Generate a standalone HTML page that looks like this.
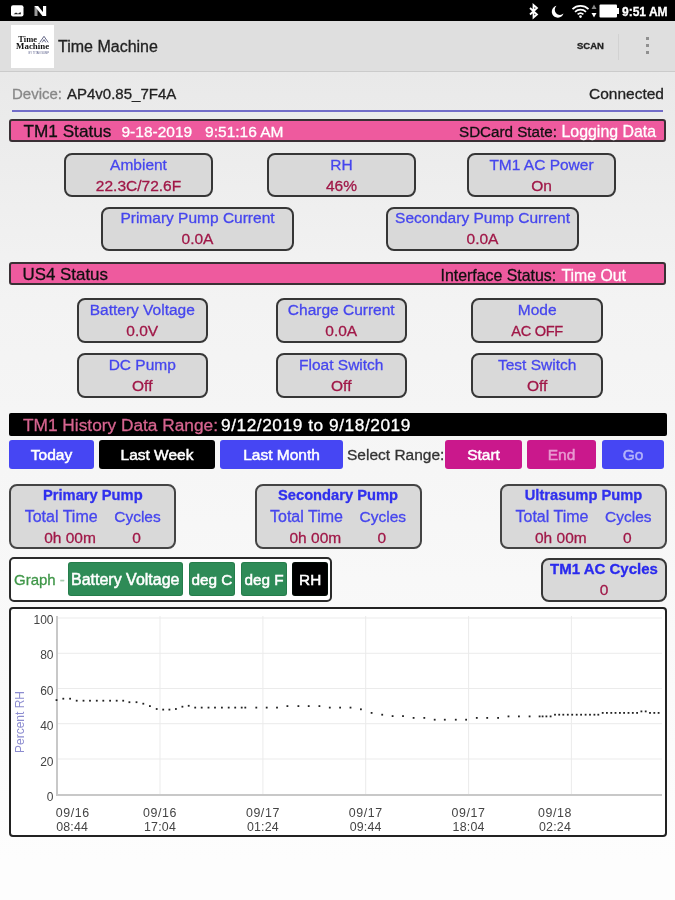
<!DOCTYPE html>
<html><head><meta charset="utf-8"><title>Time Machine</title>
<style>
*{box-sizing:border-box;margin:0;padding:0}
html,body{width:675px;height:900px;overflow:hidden;font-family:"Liberation Sans",sans-serif;}
body{background:linear-gradient(to bottom,#e9e9e9 0px,#e9e9e9 72px,#f3f3f3 300px,#fdfdfd 860px,#fdfdfd 900px)}
.abs{position:absolute}
#sb{position:absolute;left:0;top:0;width:675px;height:21px;background:#000}
#ab{position:absolute;left:0;top:21px;width:675px;height:50.5px;background:#dfdfdf;border-bottom:1px solid #cbcbcb}
.t{position:absolute;white-space:nowrap;line-height:1}
.t,.box{-webkit-text-stroke:0.3px}
.btn,.gb{-webkit-text-stroke:0.5px}
.bar{position:absolute;left:9px;width:657.3px;height:23px;background:#ee5a9e;border:2px solid #3a3035;border-radius:3px}
.box{position:absolute;background:#d9d9d9;border:2px solid #363636;border-radius:8px;text-align:center}
.box .l{position:absolute;left:0;right:0;top:0.9px;color:#4646ee;font-size:15.5px;line-height:18px;white-space:nowrap}
.box .v{position:absolute;left:0;right:0;top:21.7px;color:#a01848;font-size:15.5px;line-height:18px;white-space:nowrap}
.pb{border-color:#444 !important}
.pb .h{position:absolute;left:0;right:0;top:0.2px;color:#3030ee;font-size:14.7px;font-weight:bold;line-height:18px;white-space:nowrap}
.pb .a{position:absolute;top:22px;color:#4646ee;font-size:15.7px;line-height:18px;white-space:nowrap}
.pb .b{position:absolute;top:42.5px;color:#a01848;font-size:15.5px;line-height:18px;white-space:nowrap;text-align:center}
.btn{position:absolute;top:440.2px;height:29.3px;color:#fff;font-size:15.5px;line-height:29.5px;text-align:center;border-radius:3px;white-space:nowrap}
.blue{background:#4646f3}
.mag{background:#ca188c}
.gb{position:absolute;top:562px;height:34.3px;background:#2e8b57;color:#fff;font-size:16px;line-height:36px;box-shadow:inset 0 0 0 1px rgba(0,60,20,.18);text-align:center;border-radius:3px;white-space:nowrap}
svg{position:absolute;left:0;top:0}
svg text{font-family:"Liberation Sans",sans-serif}
svg text.sf{font-family:"Liberation Serif",serif;font-weight:bold}
</style></head><body>
<div id="sb"></div>
<div id="ab"></div>

<!-- status bar icons -->
<svg width="675" height="21" viewBox="0 0 675 21">
 <rect x="11" y="5.3" width="12.5" height="11.2" rx="2" fill="#fff"/>
 <path d="M13.5 14.2 L16 12.6 L18 13.8 L20.5 12 L21 14.2 Z" fill="#222"/>
 <path d="M34.5 16 V6 h3 v10 z" fill="#999"/>
 <path d="M34.5 6 h3.6 l8 10 h-3.6 z M43 6 h3.2 v10 h-3.2 z" fill="#fff"/>
 <path d="M530 8 L537 14.5 L533.5 17.5 V5 L537 8 L530 14.5" fill="none" stroke="#fff" stroke-width="1.8"/>
 <path d="M556.5 5.8 A6 6 0 1 0 563.5 13.6 A5.2 5.2 0 0 1 556.5 5.8 Z" fill="#fff"/>
 <g fill="none" stroke="#fff" stroke-width="1.7">
  <path d="M572.5 9.2 A11.5 11.5 0 0 1 588.5 9.2"/>
  <path d="M575 11.9 A8 8 0 0 1 586 11.9"/>
  <path d="M577.6 14.4 A4.3 4.3 0 0 1 583.4 14.4"/>
 </g>
 <circle cx="580.5" cy="16.6" r="1.3" fill="#fff"/>
 <path d="M591.5 9 L594 4.5 L596.5 9 Z" fill="#888"/>
 <path d="M591.5 13 L594 17.5 L596.5 13 Z" fill="#fff"/>
 <rect x="599.5" y="4.5" width="17.5" height="13" rx="1" fill="#fff"/>
 <rect x="617" y="8" width="2" height="6" fill="#fff"/>
</svg>
<div class="t" style="left:622px;top:5.5px;font-size:12px;font-weight:bold;color:#fff">9:51 AM</div>

<!-- app bar -->
<div class="abs" style="left:11px;top:25px;width:42.5px;height:42.5px;background:#fff"></div>
<svg width="60" height="70" viewBox="0 0 60 70">
 <g font-family="'Liberation Serif',serif" font-weight="bold" fill="#111" style="font-family:'Liberation Serif',serif">
  <text class="sf" x="18.3" y="42.3" font-size="7.2" textLength="18.7" lengthAdjust="spacingAndGlyphs">Time</text>
  <text class="sf" x="16.1" y="49.4" font-size="7.2" textLength="33" lengthAdjust="spacingAndGlyphs">Machine</text>
 </g>
 <text x="28.5" y="53.8" font-size="2.8" fill="#5a5f8a" textLength="20.5" lengthAdjust="spacingAndGlyphs" style="font-family:'Liberation Sans',sans-serif">BY TITAN SUMP</text>
 <path d="M39.8 42.4 L44 36.3 L48.2 42.4 M42.2 42.4 L44 39.6 L45.8 42.4" fill="none" stroke="#55587a" stroke-width="0.9"/>
</svg>
<div class="t" style="left:58px;top:38.5px;font-size:16px;color:#222">Time Machine</div>
<div class="t" style="left:577px;top:41.2px;font-size:9.5px;font-weight:bold;color:#222">SCAN</div>
<div class="abs" style="left:618px;top:34px;width:1px;height:26px;background:#d2d2d2"></div>
<div class="abs" style="left:645.5px;top:37.3px;width:3px;height:3px;background:#909090"></div>
<div class="abs" style="left:645.5px;top:44.1px;width:3px;height:3px;background:#909090"></div>
<div class="abs" style="left:645.5px;top:50.9px;width:3px;height:3px;background:#909090"></div>

<div class="t" style="left:12px;top:86px;font-size:15px;color:#888">Device:</div>
<div class="t" style="left:67px;top:86px;font-size:15px;color:#222">AP4v0.85_7F4A</div>
<div class="t" style="right:11px;top:86px;font-size:15.5px;color:#222">Connected</div>
<div class="abs" style="left:12px;top:109.5px;width:651px;height:2px;background:#726cc8"></div>

<div class="bar" style="top:119px"></div>
<div class="t" style="left:23.5px;top:123px;font-size:17.2px;color:#111">TM1 Status</div>
<div class="t" style="left:121.5px;top:123.5px;font-size:15.5px;color:#fff">9-18-2019&nbsp;&nbsp; 9:51:16 AM</div>
<div class="t" style="left:459px;top:124px;font-size:15.2px;color:#111">SDCard State:</div>
<div class="t" style="left:561.5px;top:123.5px;font-size:15.9px;color:#fff">Logging Data</div>

<div class="box" style="left:64px;top:153.3px;width:149px;height:44px"><div class="l">Ambient</div><div class="v">22.3C/72.6F</div></div>
<div class="box" style="left:267px;top:153.3px;width:149px;height:44px"><div class="l">RH</div><div class="v">46%</div></div>
<div class="box" style="left:467px;top:153.3px;width:149px;height:44px"><div class="l">TM1 AC Power</div><div class="v">On</div></div>
<div class="box" style="left:101px;top:206.5px;width:193px;height:44px"><div class="l">Primary Pump Current</div><div class="v">0.0A</div></div>
<div class="box" style="left:386px;top:206.5px;width:193px;height:44px"><div class="l">Secondary Pump Current</div><div class="v">0.0A</div></div>

<div class="bar" style="top:261.8px"></div>
<div class="t" style="left:22.5px;top:266.7px;font-size:16.9px;color:#111">US4 Status</div>
<div class="t" style="left:440.5px;top:268px;font-size:15.9px;color:#111">Interface Status:</div>
<div class="t" style="left:561.5px;top:268px;font-size:15.8px;color:#fff">Time Out</div>

<div class="box" style="left:76.5px;top:298px;width:131.5px;height:45px"><div class="l">Battery Voltage</div><div class="v">0.0V</div></div>
<div class="box" style="left:275.5px;top:298px;width:131.5px;height:45px"><div class="l">Charge Current</div><div class="v">0.0A</div></div>
<div class="box" style="left:471.3px;top:298px;width:131.7px;height:45px"><div class="l">Mode</div><div class="v" style="font-size:14.6px;letter-spacing:-.3px">AC OFF</div></div>
<div class="box" style="left:76.5px;top:353px;width:131.5px;height:45px"><div class="l">DC Pump</div><div class="v">Off</div></div>
<div class="box" style="left:275.5px;top:353px;width:131.5px;height:45px"><div class="l">Float Switch</div><div class="v">Off</div></div>
<div class="box" style="left:471.3px;top:353px;width:131.7px;height:45px"><div class="l">Test Switch</div><div class="v">Off</div></div>

<div class="abs" style="left:9px;top:413px;width:657.5px;height:22.5px;background:#000;border-radius:2px"></div>
<div class="t" style="left:23px;top:416.8px;font-size:17.3px;color:#d6648f">TM1 History Data Range:</div>
<div class="t" style="left:221px;top:416.8px;font-size:17.3px;color:#fff;letter-spacing:.55px">9/12/2019 to 9/18/2019</div>

<div class="btn blue" style="left:9px;width:85px">Today</div>
<div class="btn" style="left:99px;width:116px;background:#000">Last Week</div>
<div class="btn blue" style="left:220px;width:123px">Last Month</div>
<div class="t" style="left:347px;top:447px;font-size:15.5px;color:#333">Select Range:</div>
<div class="btn mag" style="left:445px;width:77px">Start</div>
<div class="btn mag" style="left:527px;width:69px;color:#e899d0">End</div>
<div class="btn blue" style="left:602px;width:62px;color:#b4b4fa">Go</div>

<div class="box pb" style="left:9.2px;top:484px;width:167.3px;height:65px"><div class="h">Primary Pump</div><div class="a" style="left:13.5px;font-size:16px">Total Time</div><div class="a" style="left:103px;font-size:15.5px;top:22.4px">Cycles</div><div class="b" style="left:33px">0h 00m</div><div class="b" style="left:121px">0</div></div>
<div class="box pb" style="left:254.5px;top:484px;width:167px;height:65px"><div class="h">Secondary Pump</div><div class="a" style="left:13.5px;font-size:16px">Total Time</div><div class="a" style="left:103px;font-size:15.5px;top:22.4px">Cycles</div><div class="b" style="left:33px">0h 00m</div><div class="b" style="left:121px">0</div></div>
<div class="box pb" style="left:500px;top:484px;width:167px;height:65px"><div class="h">Ultrasump Pump</div><div class="a" style="left:13.5px;font-size:16px">Total Time</div><div class="a" style="left:103px;font-size:15.5px;top:22.4px">Cycles</div><div class="b" style="left:33px">0h 00m</div><div class="b" style="left:121px">0</div></div>

<div class="abs" style="left:9px;top:557px;width:323px;height:44.5px;background:#fff;border:2px solid #2a2a2a;border-radius:5px"></div>
<div class="t" style="left:14px;top:572px;font-size:15px;color:#3f9648">Graph <span style="color:#a9cbb0">-</span></div>
<div class="gb" style="left:67.5px;width:115.5px">Battery Voltage</div>
<div class="gb" style="left:189px;width:46px;font-size:15.3px">deg C</div>
<div class="gb" style="left:241px;width:46px;font-size:15.3px">deg F</div>
<div class="gb" style="left:292px;width:36.3px;background:#000;font-size:15.3px">RH</div>
<div class="box" style="left:541px;top:557.5px;width:126px;height:44px"><div class="l" style="font-weight:bold;color:#2a2aee;font-size:15px">TM1 AC Cycles</div><div class="v">0</div></div>

<!-- chart -->
<div class="abs" style="left:9.2px;top:606.5px;width:657.8px;height:230.5px;background:#fff;border:2px solid #222;border-radius:4px"></div>
<svg width="675" height="900" viewBox="0 0 675 900">
 <g stroke="#ebebeb" stroke-width="1" fill="none">
  <path d="M57 618H662M57 653.3H662M57 688.5H662M57 723.7H662M57 759H662"/>
  <path d="M160 616V795M262.9 616V795M365.7 616V795M468.6 616V795M571.4 616V795"/>
 </g>
 <path d="M57 616V796" stroke="#c8c8c8" stroke-width="2" fill="none"/>
 <path d="M56 795H662" stroke="#c8c8c8" stroke-width="2.2" fill="none"/>
 <g font-size="12" fill="#444" text-anchor="end">
  <text x="53.5" y="623.5">100</text><text x="53.5" y="659">80</text><text x="53.5" y="694.5">60</text><text x="53.5" y="730">40</text><text x="53.5" y="765.5">20</text><text x="53.5" y="801">0</text>
 </g>
 <text transform="translate(23.5,753) rotate(-90)" font-size="12" fill="#8c8cd0">Percent RH</text>
 <g font-size="12.4" fill="#444" text-anchor="middle">
  <text x="72.8" y="817" letter-spacing=".6">09/16</text><text x="72.2" y="830.5" letter-spacing=".2">08:44</text>
  <text x="160" y="817" letter-spacing=".6">09/16</text><text x="160" y="830.5" letter-spacing=".2">17:04</text>
  <text x="262.9" y="817" letter-spacing=".6">09/17</text><text x="262.9" y="830.5" letter-spacing=".2">01:24</text>
  <text x="365.7" y="817" letter-spacing=".6">09/17</text><text x="365.7" y="830.5" letter-spacing=".2">09:44</text>
  <text x="468.6" y="817" letter-spacing=".6">09/17</text><text x="468.6" y="830.5" letter-spacing=".2">18:04</text>
  <text x="555" y="817" letter-spacing=".6">09/18</text><text x="555" y="830.5" letter-spacing=".2">02:24</text>
 </g>
 <g fill="#222"><rect x="55.6" y="699.2" width="1.8" height="1.8"/><rect x="62.4" y="697.8" width="1.8" height="1.8"/><rect x="69.2" y="697.8" width="1.8" height="1.8"/><rect x="75.8" y="699.8" width="1.8" height="1.8"/><rect x="82.6" y="699.8" width="1.8" height="1.8"/><rect x="89.1" y="699.8" width="1.8" height="1.8"/><rect x="95.9" y="699.8" width="1.8" height="1.8"/><rect x="102.4" y="699.8" width="1.8" height="1.8"/><rect x="109.2" y="699.8" width="1.8" height="1.8"/><rect x="115.8" y="699.8" width="1.8" height="1.8"/><rect x="122.3" y="699.8" width="1.8" height="1.8"/><rect x="128.5" y="701.3" width="1.8" height="1.8"/><rect x="135.6" y="701.3" width="1.8" height="1.8"/><rect x="142.4" y="702.8" width="1.8" height="1.8"/><rect x="149.0" y="705.2" width="1.8" height="1.8"/><rect x="155.8" y="708.1" width="1.8" height="1.8"/><rect x="162.3" y="708.7" width="1.8" height="1.8"/><rect x="168.5" y="708.7" width="1.8" height="1.8"/><rect x="175.0" y="708.1" width="1.8" height="1.8"/><rect x="181.5" y="705.8" width="1.8" height="1.8"/><rect x="187.8" y="704.9" width="1.8" height="1.8"/><rect x="194.3" y="706.7" width="1.8" height="1.8"/><rect x="200.8" y="706.7" width="1.8" height="1.8"/><rect x="207.6" y="706.7" width="1.8" height="1.8"/><rect x="214.1" y="706.7" width="1.8" height="1.8"/><rect x="221.0" y="706.7" width="1.8" height="1.8"/><rect x="227.8" y="706.7" width="1.8" height="1.8"/><rect x="234.3" y="706.7" width="1.8" height="1.8"/><rect x="240.8" y="706.7" width="1.8" height="1.8"/><rect x="244.4" y="706.7" width="1.8" height="1.8"/><rect x="255.4" y="706.7" width="1.8" height="1.8"/><rect x="265.8" y="706.7" width="1.8" height="1.8"/><rect x="276.1" y="706.7" width="1.8" height="1.8"/><rect x="286.5" y="705.2" width="1.8" height="1.8"/><rect x="297.5" y="705.2" width="1.8" height="1.8"/><rect x="307.8" y="705.2" width="1.8" height="1.8"/><rect x="318.5" y="705.2" width="1.8" height="1.8"/><rect x="328.9" y="706.7" width="1.8" height="1.8"/><rect x="339.2" y="706.7" width="1.8" height="1.8"/><rect x="349.6" y="706.7" width="1.8" height="1.8"/><rect x="360.0" y="708.4" width="1.8" height="1.8"/><rect x="370.7" y="712.0" width="1.8" height="1.8"/><rect x="381.3" y="713.8" width="1.8" height="1.8"/><rect x="391.7" y="715.2" width="1.8" height="1.8"/><rect x="402.1" y="715.2" width="1.8" height="1.8"/><rect x="412.7" y="717.0" width="1.8" height="1.8"/><rect x="423.4" y="717.0" width="1.8" height="1.8"/><rect x="433.8" y="718.8" width="1.8" height="1.8"/><rect x="443.9" y="718.8" width="1.8" height="1.8"/><rect x="454.9" y="718.8" width="1.8" height="1.8"/><rect x="465.2" y="718.8" width="1.8" height="1.8"/><rect x="475.9" y="717.0" width="1.8" height="1.8"/><rect x="486.3" y="717.0" width="1.8" height="1.8"/><rect x="497.2" y="717.0" width="1.8" height="1.8"/><rect x="507.6" y="715.5" width="1.8" height="1.8"/><rect x="518.0" y="715.5" width="1.8" height="1.8"/><rect x="528.7" y="715.5" width="1.8" height="1.8"/><rect x="538.7" y="715.5" width="1.8" height="1.8"/><rect x="541.7" y="715.5" width="1.8" height="1.8"/><rect x="545.5" y="715.5" width="1.8" height="1.8"/><rect x="549.7" y="715.5" width="1.8" height="1.8"/><rect x="554.1" y="713.8" width="1.8" height="1.8"/><rect x="558.3" y="713.8" width="1.8" height="1.8"/><rect x="562.4" y="713.8" width="1.8" height="1.8"/><rect x="566.9" y="713.8" width="1.8" height="1.8"/><rect x="571.3" y="713.8" width="1.8" height="1.8"/><rect x="575.8" y="713.8" width="1.8" height="1.8"/><rect x="580.2" y="713.8" width="1.8" height="1.8"/><rect x="584.7" y="713.8" width="1.8" height="1.8"/><rect x="589.1" y="713.8" width="1.8" height="1.8"/><rect x="593.5" y="713.8" width="1.8" height="1.8"/><rect x="597.4" y="713.8" width="1.8" height="1.8"/><rect x="601.8" y="712.0" width="1.8" height="1.8"/><rect x="606.0" y="712.0" width="1.8" height="1.8"/><rect x="610.4" y="712.0" width="1.8" height="1.8"/><rect x="614.6" y="712.0" width="1.8" height="1.8"/><rect x="619.0" y="712.0" width="1.8" height="1.8"/><rect x="623.2" y="712.0" width="1.8" height="1.8"/><rect x="627.6" y="712.0" width="1.8" height="1.8"/><rect x="631.9" y="712.0" width="1.8" height="1.8"/><rect x="636.2" y="712.0" width="1.8" height="1.8"/><rect x="640.5" y="710.5" width="1.8" height="1.8"/><rect x="644.8" y="710.5" width="1.8" height="1.8"/><rect x="649.1" y="712.0" width="1.8" height="1.8"/><rect x="653.4" y="712.0" width="1.8" height="1.8"/><rect x="657.7" y="712.0" width="1.8" height="1.8"/></g>
</svg>
</body></html>
